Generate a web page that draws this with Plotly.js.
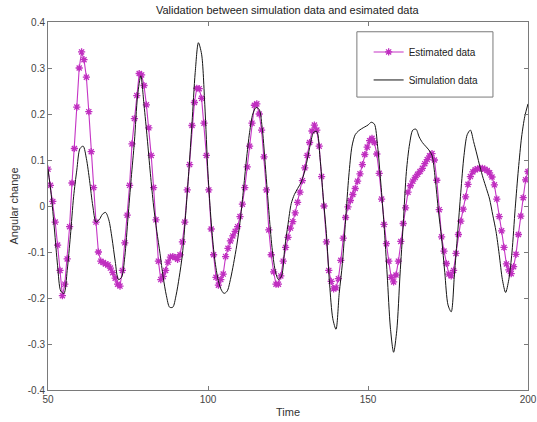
<!DOCTYPE html>
<html>
<head>
<meta charset="utf-8">
<script src="https://cdn.plot.ly/plotly-3.0.1.min.js"></script>
<style>html,body{margin:0;padding:0;background:#fff;}#chart{width:537px;height:422px;}</style>
</head>
<body>
<div id="chart"></div>
<script>
// Estimated data: sampled every 0.75 time units from t = 50 to t = 200
const estimatedStart = 50;
const estimatedStep = 0.75;
const estimatedValues = [
  0.08, 0.045, 0.01, -0.035, -0.085, -0.14, -0.195, -0.17, -0.115, -0.045,
  0.05, 0.125, 0.215, 0.3, 0.335, 0.318, 0.28, 0.205, 0.118, 0.04,
  -0.035, -0.1, -0.12, -0.123, -0.126, -0.128, -0.135, -0.145, -0.157, -0.17,
  -0.174, -0.14, -0.08, -0.02, 0.045, 0.135, 0.19, 0.24, 0.288, 0.285,
  0.262, 0.22, 0.17, 0.11, 0.04, -0.03, -0.12, -0.16, -0.153, -0.14,
  -0.122, -0.111, -0.11, -0.112, -0.116, -0.106, -0.078, -0.035, 0.035, 0.09,
  0.175, 0.225, 0.256, 0.255, 0.234, 0.18, 0.11, 0.035, -0.05, -0.106,
  -0.155, -0.172, -0.16, -0.148, -0.11, -0.092, -0.076, -0.065, -0.055, -0.045,
  -0.023, 0.004, 0.04, 0.085, 0.13, 0.18, 0.219, 0.222, 0.2, 0.165,
  0.107, 0.035, -0.052, -0.106, -0.143, -0.17, -0.17, -0.152, -0.12, -0.09,
  -0.068, -0.048, -0.034, -0.015, 0.008, 0.03, 0.055, 0.083, 0.11, 0.138,
  0.163, 0.176, 0.165, 0.13, 0.064, 0.0, -0.078, -0.14, -0.164, -0.18,
  -0.178, -0.158, -0.118, -0.07, -0.025, -0.002, 0.012, 0.025, 0.038, 0.054,
  0.07, 0.09, 0.112, 0.128, 0.142, 0.147, 0.138, 0.113, 0.071, 0.015,
  -0.04, -0.082, -0.12, -0.155, -0.165, -0.15, -0.12, -0.077, -0.038, -0.004,
  0.03, 0.044, 0.054, 0.062, 0.069, 0.075, 0.082, 0.092, 0.101, 0.109,
  0.114, 0.1, 0.056, -0.008, -0.067, -0.098, -0.125, -0.148, -0.152, -0.14,
  -0.103, -0.062, -0.033, -0.007, 0.02, 0.047, 0.064, 0.074, 0.079, 0.081,
  0.082, 0.082, 0.08, 0.077, 0.072, 0.063, 0.046, 0.015, -0.023, -0.054,
  -0.09, -0.126, -0.139, -0.147, -0.132, -0.105, -0.062, -0.022, 0.018, 0.057,
  0.075
];

// Simulation data: sampled every 1 time unit from t = 50 to t = 200
const simulationStart = 50;
const simulationStep = 1;
const simulationValues = [
  0.08, 0.025, -0.05, -0.13, -0.185, -0.19, -0.14, -0.065, 0.02, 0.078,
  0.125, 0.13, 0.103, 0.055, 0.0, -0.035, -0.03, -0.018, -0.014, -0.03,
  -0.07, -0.12, -0.16, -0.155, -0.11, -0.025, 0.06, 0.14, 0.24, 0.283,
  0.22, 0.148, 0.07, 0.0, -0.055, -0.103, -0.155, -0.195, -0.22, -0.22,
  -0.195, -0.155, -0.105, -0.02, 0.075, 0.18, 0.29, 0.355, 0.33, 0.22,
  0.07, -0.035, -0.11, -0.155, -0.18, -0.19, -0.185, -0.16, -0.125, -0.085,
  -0.035, 0.03, 0.1, 0.16, 0.2, 0.214, 0.21, 0.165, 0.08, -0.01,
  -0.09, -0.14, -0.16, -0.152, -0.09, -0.04, 0.005, 0.025, 0.038, 0.05,
  0.07, 0.1, 0.135, 0.16, 0.162, 0.105, 0.02, -0.06, -0.17, -0.245,
  -0.268, -0.19, -0.125, -0.03, 0.065, 0.13, 0.155, 0.163, 0.168, 0.172,
  0.176, 0.182, 0.178, 0.13, 0.05, -0.04, -0.15, -0.265, -0.318, -0.27,
  -0.15, -0.04, 0.075, 0.135, 0.165, 0.167, 0.15, 0.138, 0.13, 0.122,
  0.11, 0.06, -0.01, -0.07, -0.145, -0.215, -0.23, -0.15, -0.06, 0.03,
  0.11, 0.155, 0.165, 0.14, 0.113, 0.085, 0.06, 0.038, 0.015, -0.02,
  -0.055, -0.105, -0.16, -0.188, -0.16, -0.1, -0.005, 0.08, 0.15, 0.195,
  0.222
];

const xTickValues = [50, 100, 150, 200];
const yTickValues = [-0.4, -0.3, -0.2, -0.1, 0, 0.1, 0.2, 0.3, 0.4];
const yTickLabels = ['-0.4', '-0.3', '-0.2', '-0.1', '0', '0.1', '0.2', '0.3', '0.4'];

const seriesNames = ['Estimated data', 'Simulation data'];
const chartTitle = 'Validation between simulation data and esimated data';
const xLabel = 'Time';
const yLabel = 'Angular change';

const FONT = 'Liberation Sans, Arial, sans-serif';
const AXIS_COLOR = '#7a7a7a';
const TEXT_COLOR = '#3a3a3a';

const traces = [
  {
    type: 'scatter',
    mode: 'lines+markers',
    name: seriesNames[0],
    x0: estimatedStart,
    dx: estimatedStep,
    y: estimatedValues,
    line: {color: '#c535c5', width: 1.1},
    marker: {symbol: 'asterisk-open', size: 6, color: '#c02ec0', line: {color: '#c02ec0', width: 1.3}},
    legendgroup: 'a'
  },
  {
    type: 'scatter',
    mode: 'lines',
    name: seriesNames[1],
    x0: simulationStart,
    dx: simulationStep,
    y: simulationValues,
    line: {color: '#151515', width: 1, shape: 'spline', smoothing: 0.8},
    legendgroup: 'b'
  }
];

const layout = {
  width: 537,
  height: 422,
  margin: {l: 48, r: 9, t: 22, b: 32},
  paper_bgcolor: '#ffffff',
  plot_bgcolor: '#ffffff',
  font: {family: FONT, size: 10, color: TEXT_COLOR},
  title: {
    text: chartTitle,
    font: {family: FONT, size: 11, color: '#222'},
    x: 0.535, xanchor: 'center', y: 0.975, yanchor: 'middle'
  },
  xaxis: {
    range: [50, 200],
    tickvals: xTickValues,
    ticks: 'inside', ticklen: 4, tickcolor: AXIS_COLOR,
    showline: true, linecolor: AXIS_COLOR, linewidth: 1, mirror: 'ticks',
    showgrid: false, zeroline: false,
    tickfont: {family: FONT, size: 10, color: '#444'},
    title: {text: xLabel, font: {family: FONT, size: 11, color: '#333'}, standoff: 4}
  },
  yaxis: {
    range: [-0.4, 0.4],
    tickvals: yTickValues,
    ticktext: yTickLabels,
    ticks: 'inside', ticklen: 4, tickcolor: AXIS_COLOR,
    showline: true, linecolor: AXIS_COLOR, linewidth: 1, mirror: 'ticks',
    showgrid: false, zeroline: false,
    tickfont: {family: FONT, size: 10, color: '#444'},
    title: {text: yLabel, font: {family: FONT, size: 11, color: '#333'}, standoff: 6}
  },
  showlegend: true,
  legend: {
    x: 0.668, y: 0.958, xanchor: 'left', yanchor: 'top',
    bgcolor: 'rgba(0,0,0,0)', borderwidth: 0,
    font: {family: FONT, size: 10, color: '#222'},
    traceorder: 'grouped', tracegroupgap: 9,
    itemwidth: 30
  },
  shapes: [
    {type: 'rect', xref: 'paper', yref: 'paper', x0: 0.6435, x1: 0.927, y0: 0.796, y1: 0.9735,
     line: {color: '#7a7a7a', width: 1}, fillcolor: '#ffffff', layer: 'below'}
  ]
};

Plotly.newPlot('chart', traces, layout, {displayModeBar: false, staticPlot: true});
</script>
</body>
</html>
